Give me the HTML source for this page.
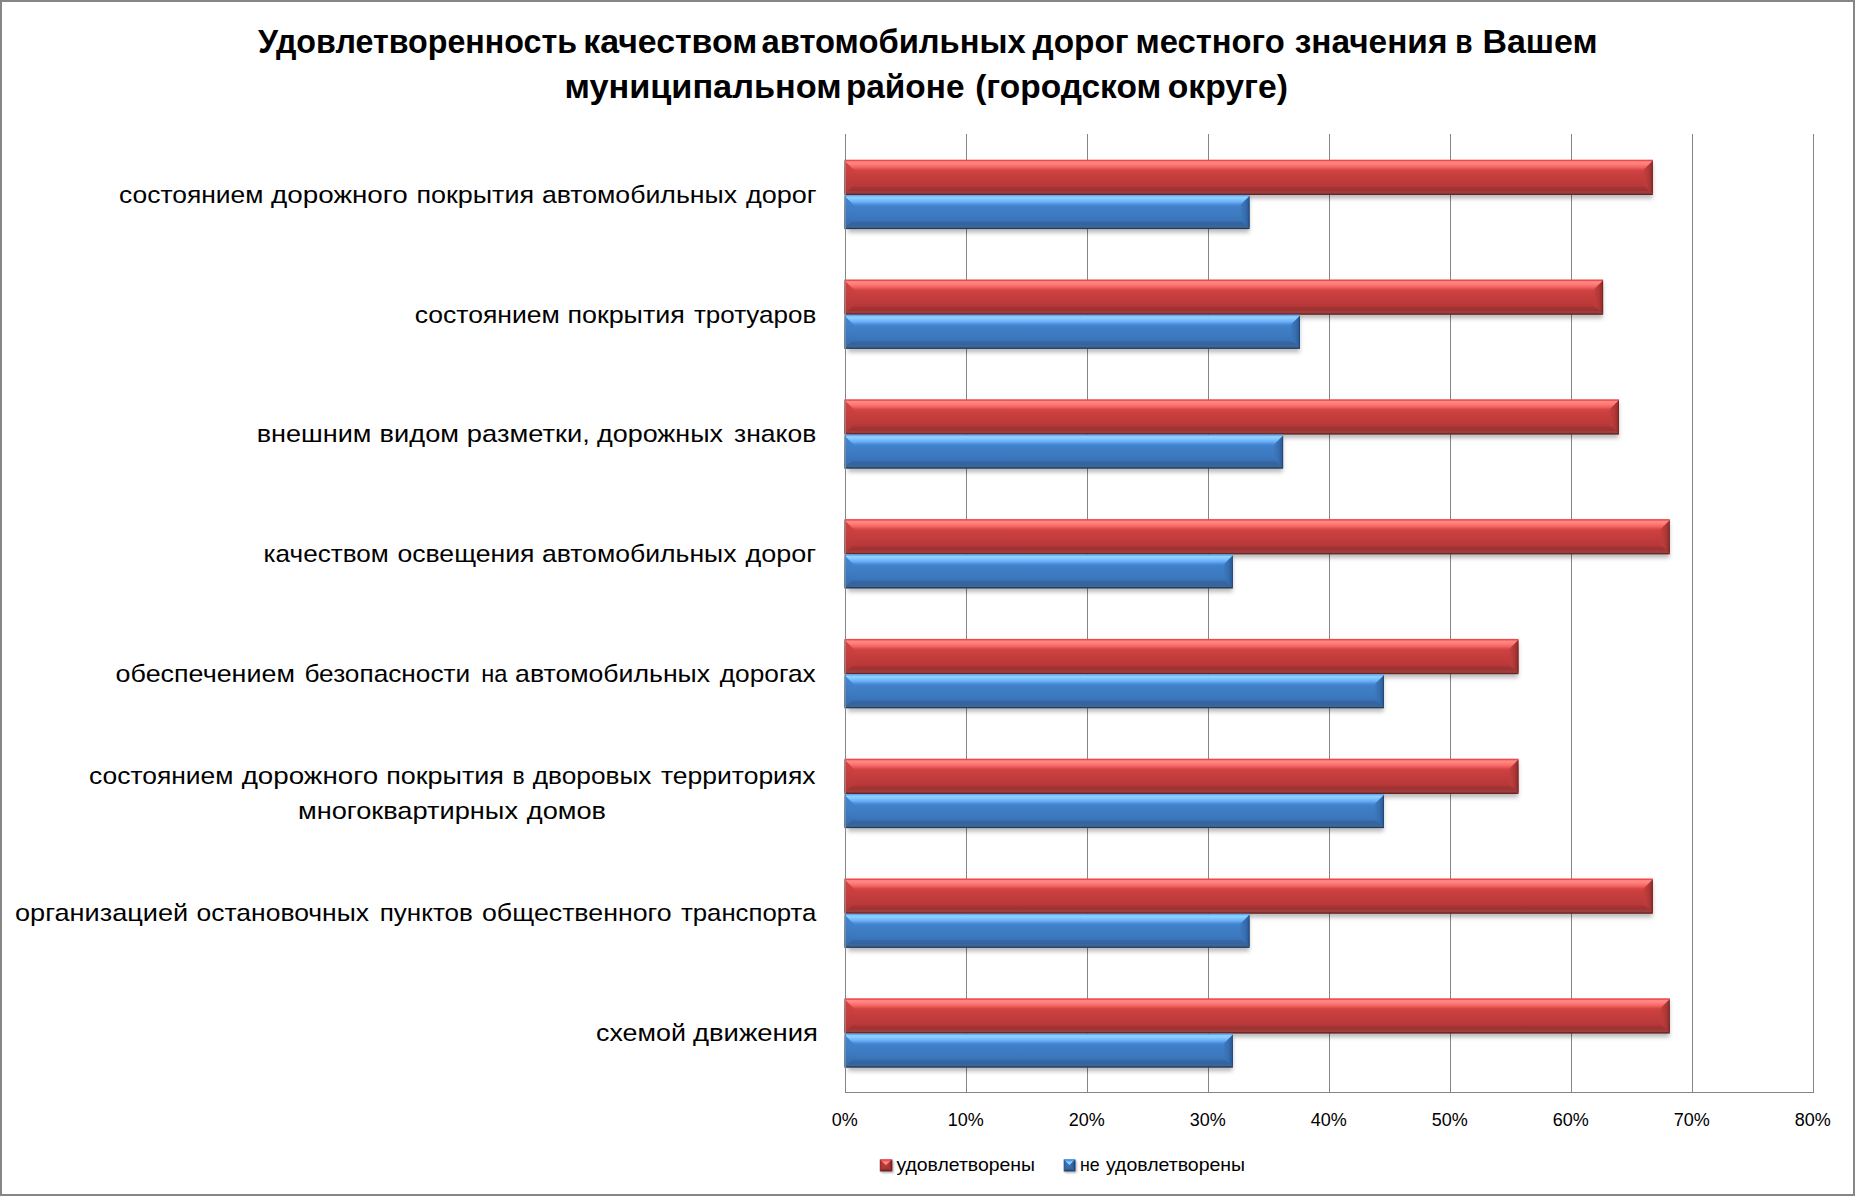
<!DOCTYPE html>
<html lang="ru">
<head>
<meta charset="utf-8">
<title>Удовлетворенность качеством автомобильных дорог</title>
<style>
html,body{margin:0;padding:0;background:#fff;}
body{width:1855px;height:1196px;overflow:hidden;}
svg{display:block;}
text{font-family:"Liberation Sans",sans-serif;fill:#000;}
.t{font-weight:bold;font-size:34px;}
.c{font-size:24.8px;}
.a{font-size:18px;}
.l{font-size:18.2px;}
</style>
</head>
<body>
<svg width="1855" height="1196" viewBox="0 0 1855 1196">
<defs>
<linearGradient id="gr" x1="0" y1="0" x2="0" y2="1">
<stop offset="0" stop-color="#ee4444"/>
<stop offset="0.03" stop-color="#f04a4a"/>
<stop offset="0.06" stop-color="#ff8a86"/>
<stop offset="0.12" stop-color="#ff807c"/>
<stop offset="0.21" stop-color="#f46462"/>
<stop offset="0.29" stop-color="#d44646"/>
<stop offset="0.35" stop-color="#cc4040"/>
<stop offset="0.60" stop-color="#c03b3b"/>
<stop offset="0.75" stop-color="#b53838"/>
<stop offset="0.80" stop-color="#a43232"/>
<stop offset="0.88" stop-color="#a03232"/>
<stop offset="0.90" stop-color="#9c3e3e"/>
<stop offset="0.95" stop-color="#984040"/>
<stop offset="0.97" stop-color="#702424"/>
<stop offset="1" stop-color="#6a2020"/>
</linearGradient>
<linearGradient id="gb" x1="0" y1="0" x2="0" y2="1">
<stop offset="0" stop-color="#58a6f6"/>
<stop offset="0.03" stop-color="#62b0fa"/>
<stop offset="0.06" stop-color="#90d4ff"/>
<stop offset="0.12" stop-color="#84c8ff"/>
<stop offset="0.21" stop-color="#68acf6"/>
<stop offset="0.29" stop-color="#4888d6"/>
<stop offset="0.35" stop-color="#4080c8"/>
<stop offset="0.60" stop-color="#3c7ac0"/>
<stop offset="0.75" stop-color="#3a74b8"/>
<stop offset="0.80" stop-color="#3466a4"/>
<stop offset="0.88" stop-color="#3464a0"/>
<stop offset="0.90" stop-color="#3a6698"/>
<stop offset="0.95" stop-color="#3c6896"/>
<stop offset="0.97" stop-color="#243e60"/>
<stop offset="1" stop-color="#203858"/>
</linearGradient>
<linearGradient id="rr" x1="0" y1="0" x2="1" y2="0">
<stop offset="0" stop-color="#c43e3e" stop-opacity="0"/>
<stop offset="0.3" stop-color="#be3c3c"/>
<stop offset="0.6" stop-color="#b23838"/>
<stop offset="0.86" stop-color="#983030"/>
<stop offset="1" stop-color="#6a2020"/>
</linearGradient>
<linearGradient id="rb" x1="0" y1="0" x2="1" y2="0">
<stop offset="0" stop-color="#3e7ac0" stop-opacity="0"/>
<stop offset="0.3" stop-color="#3b75b9"/>
<stop offset="0.6" stop-color="#376eb0"/>
<stop offset="0.86" stop-color="#2e5e9a"/>
<stop offset="1" stop-color="#1e3e68"/>
</linearGradient>
<linearGradient id="lr" x1="0" y1="0" x2="0" y2="1">
<stop offset="0" stop-color="#d64545"/>
<stop offset="0.5" stop-color="#c43d3d"/>
<stop offset="1" stop-color="#b03636"/>
</linearGradient>
<linearGradient id="lb" x1="0" y1="0" x2="0" y2="1">
<stop offset="0" stop-color="#4686d2"/>
<stop offset="0.5" stop-color="#3e7cc4"/>
<stop offset="1" stop-color="#366cac"/>
</linearGradient>
<filter id="sh" x="-5%" y="-50%" width="110%" height="200%">
<feGaussianBlur stdDeviation="2"/>
</filter>
<linearGradient id="mrt" x1="0" y1="0" x2="0" y2="1">
<stop offset="0" stop-color="#ec4040"/><stop offset="0.2" stop-color="#f45050"/><stop offset="0.5" stop-color="#ff8c8a"/><stop offset="1" stop-color="#ff7a78"/>
</linearGradient>
<linearGradient id="mrl" x1="0" y1="0" x2="1" y2="0">
<stop offset="0" stop-color="#8c2424"/><stop offset="0.12" stop-color="#b03434"/><stop offset="0.5" stop-color="#c03c3c"/><stop offset="1" stop-color="#c03c3c"/>
</linearGradient>
<linearGradient id="mrr" x1="0" y1="0" x2="1" y2="0">
<stop offset="0" stop-color="#c03c3c"/><stop offset="0.6" stop-color="#a83232"/><stop offset="1" stop-color="#641a1a"/>
</linearGradient>
<linearGradient id="mrb" x1="0" y1="0" x2="0" y2="1">
<stop offset="0" stop-color="#b03c3c"/><stop offset="0.5" stop-color="#9a3c3c"/><stop offset="0.8" stop-color="#7a2c2c"/><stop offset="1" stop-color="#5a1818"/>
</linearGradient>
<linearGradient id="mbt" x1="0" y1="0" x2="0" y2="1">
<stop offset="0" stop-color="#4088e8"/><stop offset="0.2" stop-color="#5098f0"/><stop offset="0.5" stop-color="#8cd4ff"/><stop offset="1" stop-color="#78c0ff"/>
</linearGradient>
<linearGradient id="mbl" x1="0" y1="0" x2="1" y2="0">
<stop offset="0" stop-color="#24508c"/><stop offset="0.12" stop-color="#3468ac"/><stop offset="0.5" stop-color="#3c74bc"/><stop offset="1" stop-color="#3c74bc"/>
</linearGradient>
<linearGradient id="mbr" x1="0" y1="0" x2="1" y2="0">
<stop offset="0" stop-color="#3c74bc"/><stop offset="0.6" stop-color="#3060a0"/><stop offset="1" stop-color="#183868"/>
</linearGradient>
<linearGradient id="mbb" x1="0" y1="0" x2="0" y2="1">
<stop offset="0" stop-color="#3c70b4"/><stop offset="0.5" stop-color="#3c6898"/><stop offset="0.8" stop-color="#2c5080"/><stop offset="1" stop-color="#182c50"/>
</linearGradient>
<filter id="sh2" x="-30%" y="-30%" width="160%" height="160%">
<feGaussianBlur stdDeviation="0.8"/>
</filter>
</defs>
<rect x="0" y="0" width="1855" height="1196" fill="#fff"/>
<rect x="1" y="1" width="1853" height="1194" fill="none" stroke="#868686" stroke-width="2"/>
<g stroke="#868686" stroke-width="1" fill="none">
<line x1="966.5" y1="134.0" x2="966.5" y2="1092.4"/>
<line x1="1087.5" y1="134.0" x2="1087.5" y2="1092.4"/>
<line x1="1208.5" y1="134.0" x2="1208.5" y2="1092.4"/>
<line x1="1329.5" y1="134.0" x2="1329.5" y2="1092.4"/>
<line x1="1450.5" y1="134.0" x2="1450.5" y2="1092.4"/>
<line x1="1571.5" y1="134.0" x2="1571.5" y2="1092.4"/>
<line x1="1692.5" y1="134.0" x2="1692.5" y2="1092.4"/>
<line x1="1813.5" y1="134.0" x2="1813.5" y2="1092.4"/>
</g>
<g filter="url(#sh)" fill="#000" fill-opacity="0.27">
<rect x="847.9" y="163.20" width="804.7" height="35.30"/>
<rect x="847.9" y="198.50" width="401.3" height="34.10"/>
<rect x="847.9" y="283.00" width="754.9" height="35.30"/>
<rect x="847.9" y="318.30" width="451.8" height="34.10"/>
<rect x="847.9" y="402.80" width="770.8" height="35.30"/>
<rect x="847.9" y="438.10" width="434.8" height="34.10"/>
<rect x="847.9" y="522.60" width="821.6" height="35.30"/>
<rect x="847.9" y="557.90" width="384.6" height="34.10"/>
<rect x="847.9" y="642.40" width="670.3" height="35.30"/>
<rect x="847.9" y="677.70" width="535.7" height="34.10"/>
<rect x="847.9" y="762.20" width="670.3" height="35.30"/>
<rect x="847.9" y="797.50" width="535.7" height="34.10"/>
<rect x="847.9" y="882.00" width="804.7" height="35.30"/>
<rect x="847.9" y="917.30" width="401.3" height="34.10"/>
<rect x="847.9" y="1001.80" width="821.6" height="35.30"/>
<rect x="847.9" y="1037.10" width="384.6" height="34.10"/>
</g>
<rect x="844.4" y="159.70" width="808.5" height="35.30" fill="url(#gr)"/>
<polygon points="844.4,160.50 853.9,170.00 853.9,185.50 844.4,193.80" fill="url(#lr)"/>
<polygon points="1652.9,160.50 1642.4,171.00 1642.4,184.50 1652.9,193.80" fill="url(#rr)"/>
<rect x="844.4" y="195.00" width="405.2" height="34.10" fill="url(#gb)"/>
<polygon points="844.4,195.80 853.9,205.30 853.9,219.60 844.4,227.90" fill="url(#lb)"/>
<polygon points="1249.6,195.80 1239.1,206.30 1239.1,218.60 1249.6,227.90" fill="url(#rb)"/>
<rect x="844.4" y="279.50" width="758.7" height="35.30" fill="url(#gr)"/>
<polygon points="844.4,280.30 853.9,289.80 853.9,305.30 844.4,313.60" fill="url(#lr)"/>
<polygon points="1603.1,280.30 1592.6,290.80 1592.6,304.30 1603.1,313.60" fill="url(#rr)"/>
<rect x="844.4" y="314.80" width="455.6" height="34.10" fill="url(#gb)"/>
<polygon points="844.4,315.60 853.9,325.10 853.9,339.40 844.4,347.70" fill="url(#lb)"/>
<polygon points="1300.0,315.60 1289.5,326.10 1289.5,338.40 1300.0,347.70" fill="url(#rb)"/>
<rect x="844.4" y="399.30" width="774.6" height="35.30" fill="url(#gr)"/>
<polygon points="844.4,400.10 853.9,409.60 853.9,425.10 844.4,433.40" fill="url(#lr)"/>
<polygon points="1619.0,400.10 1608.5,410.60 1608.5,424.10 1619.0,433.40" fill="url(#rr)"/>
<rect x="844.4" y="434.60" width="438.7" height="34.10" fill="url(#gb)"/>
<polygon points="844.4,435.40 853.9,444.90 853.9,459.20 844.4,467.50" fill="url(#lb)"/>
<polygon points="1283.1,435.40 1272.6,445.90 1272.6,458.20 1283.1,467.50" fill="url(#rb)"/>
<rect x="844.4" y="519.10" width="825.4" height="35.30" fill="url(#gr)"/>
<polygon points="844.4,519.90 853.9,529.40 853.9,544.90 844.4,553.20" fill="url(#lr)"/>
<polygon points="1669.8,519.90 1659.3,530.40 1659.3,543.90 1669.8,553.20" fill="url(#rr)"/>
<rect x="844.4" y="554.40" width="388.5" height="34.10" fill="url(#gb)"/>
<polygon points="844.4,555.20 853.9,564.70 853.9,579.00 844.4,587.30" fill="url(#lb)"/>
<polygon points="1232.9,555.20 1222.4,565.70 1222.4,578.00 1232.9,587.30" fill="url(#rb)"/>
<rect x="844.4" y="638.90" width="674.1" height="35.30" fill="url(#gr)"/>
<polygon points="844.4,639.70 853.9,649.20 853.9,664.70 844.4,673.00" fill="url(#lr)"/>
<polygon points="1518.5,639.70 1508.0,650.20 1508.0,663.70 1518.5,673.00" fill="url(#rr)"/>
<rect x="844.4" y="674.20" width="539.6" height="34.10" fill="url(#gb)"/>
<polygon points="844.4,675.00 853.9,684.50 853.9,698.80 844.4,707.10" fill="url(#lb)"/>
<polygon points="1384.0,675.00 1373.5,685.50 1373.5,697.80 1384.0,707.10" fill="url(#rb)"/>
<rect x="844.4" y="758.70" width="674.1" height="35.30" fill="url(#gr)"/>
<polygon points="844.4,759.50 853.9,769.00 853.9,784.50 844.4,792.80" fill="url(#lr)"/>
<polygon points="1518.5,759.50 1508.0,770.00 1508.0,783.50 1518.5,792.80" fill="url(#rr)"/>
<rect x="844.4" y="794.00" width="539.6" height="34.10" fill="url(#gb)"/>
<polygon points="844.4,794.80 853.9,804.30 853.9,818.60 844.4,826.90" fill="url(#lb)"/>
<polygon points="1384.0,794.80 1373.5,805.30 1373.5,817.60 1384.0,826.90" fill="url(#rb)"/>
<rect x="844.4" y="878.50" width="808.5" height="35.30" fill="url(#gr)"/>
<polygon points="844.4,879.30 853.9,888.80 853.9,904.30 844.4,912.60" fill="url(#lr)"/>
<polygon points="1652.9,879.30 1642.4,889.80 1642.4,903.30 1652.9,912.60" fill="url(#rr)"/>
<rect x="844.4" y="913.80" width="405.2" height="34.10" fill="url(#gb)"/>
<polygon points="844.4,914.60 853.9,924.10 853.9,938.40 844.4,946.70" fill="url(#lb)"/>
<polygon points="1249.6,914.60 1239.1,925.10 1239.1,937.40 1249.6,946.70" fill="url(#rb)"/>
<rect x="844.4" y="998.30" width="825.4" height="35.30" fill="url(#gr)"/>
<polygon points="844.4,999.10 853.9,1008.60 853.9,1024.10 844.4,1032.40" fill="url(#lr)"/>
<polygon points="1669.8,999.10 1659.3,1009.60 1659.3,1023.10 1669.8,1032.40" fill="url(#rr)"/>
<rect x="844.4" y="1033.60" width="388.5" height="34.10" fill="url(#gb)"/>
<polygon points="844.4,1034.40 853.9,1043.90 853.9,1058.20 844.4,1066.50" fill="url(#lb)"/>
<polygon points="1232.9,1034.40 1222.4,1044.90 1222.4,1057.20 1232.9,1066.50" fill="url(#rb)"/>
<g stroke="#868686" stroke-width="1" fill="none">
<line x1="845.5" y1="134.0" x2="845.5" y2="1093"/>
<line x1="845" y1="1092.5" x2="1814" y2="1092.5"/>
</g>
<text class="t" y="52.6"><tspan x="257.9" textLength="319.1" lengthAdjust="spacingAndGlyphs">Удовлетворенность</tspan> <tspan x="583.3" textLength="173.9" lengthAdjust="spacingAndGlyphs">качеством</tspan> <tspan x="761.5" textLength="264.2" lengthAdjust="spacingAndGlyphs">автомобильных</tspan> <tspan x="1032.5" textLength="96.2" lengthAdjust="spacingAndGlyphs">дорог</tspan> <tspan x="1135.5" textLength="149.2" lengthAdjust="spacingAndGlyphs">местного</tspan> <tspan x="1294.7" textLength="152.7" lengthAdjust="spacingAndGlyphs">значения</tspan> <tspan x="1455.2" textLength="17.3" lengthAdjust="spacingAndGlyphs">в</tspan> <tspan x="1482.4" textLength="115.2" lengthAdjust="spacingAndGlyphs">Вашем</tspan></text>
<text class="t" y="97.9"><tspan x="564.5" textLength="277.1" lengthAdjust="spacingAndGlyphs">муниципальном</tspan> <tspan x="845.9" textLength="118.6" lengthAdjust="spacingAndGlyphs">районе</tspan> <tspan x="975.2" textLength="186.0" lengthAdjust="spacingAndGlyphs">(городском</tspan> <tspan x="1167.8" textLength="120.2" lengthAdjust="spacingAndGlyphs">округе)</tspan></text>
<text class="c" y="202.9"><tspan x="119.0" textLength="144.4" lengthAdjust="spacingAndGlyphs">состоянием</tspan> <tspan x="271.1" textLength="136.7" lengthAdjust="spacingAndGlyphs">дорожного</tspan> <tspan x="416.4" textLength="117.7" lengthAdjust="spacingAndGlyphs">покрытия</tspan> <tspan x="541.9" textLength="195.1" lengthAdjust="spacingAndGlyphs">автомобильных</tspan> <tspan x="745.9" textLength="70.7" lengthAdjust="spacingAndGlyphs">дорог</tspan></text>
<text class="c" y="322.9"><tspan x="414.7" textLength="145.2" lengthAdjust="spacingAndGlyphs">состоянием</tspan> <tspan x="567.4" textLength="117.4" lengthAdjust="spacingAndGlyphs">покрытия</tspan> <tspan x="693.9" textLength="122.4" lengthAdjust="spacingAndGlyphs">тротуаров</tspan></text>
<text class="c" y="441.9"><tspan x="256.7" textLength="114.8" lengthAdjust="spacingAndGlyphs">внешним</tspan> <tspan x="379.6" textLength="79.4" lengthAdjust="spacingAndGlyphs">видом</tspan> <tspan x="466.8" textLength="123.0" lengthAdjust="spacingAndGlyphs">разметки,</tspan> <tspan x="597.1" textLength="125.9" lengthAdjust="spacingAndGlyphs">дорожных</tspan> <tspan x="734.1" textLength="82.1" lengthAdjust="spacingAndGlyphs">знаков</tspan></text>
<text class="c" y="561.9"><tspan x="263.6" textLength="125.1" lengthAdjust="spacingAndGlyphs">качеством</tspan> <tspan x="397.4" textLength="137.1" lengthAdjust="spacingAndGlyphs">освещения</tspan> <tspan x="541.9" textLength="194.6" lengthAdjust="spacingAndGlyphs">автомобильных</tspan> <tspan x="745.6" textLength="70.6" lengthAdjust="spacingAndGlyphs">дорог</tspan></text>
<text class="c" y="681.9"><tspan x="115.6" textLength="179.3" lengthAdjust="spacingAndGlyphs">обеспечением</tspan> <tspan x="304.4" textLength="165.8" lengthAdjust="spacingAndGlyphs">безопасности</tspan> <tspan x="481.2" textLength="26.2" lengthAdjust="spacingAndGlyphs">на</tspan> <tspan x="515.1" textLength="195.0" lengthAdjust="spacingAndGlyphs">автомобильных</tspan> <tspan x="719.8" textLength="95.9" lengthAdjust="spacingAndGlyphs">дорогах</tspan></text>
<text class="c" y="783.9"><tspan x="89.0" textLength="144.5" lengthAdjust="spacingAndGlyphs">состоянием</tspan> <tspan x="241.7" textLength="136.4" lengthAdjust="spacingAndGlyphs">дорожного</tspan> <tspan x="386.2" textLength="117.8" lengthAdjust="spacingAndGlyphs">покрытия</tspan> <tspan x="512.4" textLength="12.2" lengthAdjust="spacingAndGlyphs">в</tspan> <tspan x="532.8" textLength="118.7" lengthAdjust="spacingAndGlyphs">дворовых</tspan> <tspan x="661.0" textLength="154.5" lengthAdjust="spacingAndGlyphs">территориях</tspan></text>
<text class="c" y="818.9"><tspan x="298.0" textLength="220.0" lengthAdjust="spacingAndGlyphs">многоквартирных</tspan> <tspan x="526.8" textLength="79.2" lengthAdjust="spacingAndGlyphs">домов</tspan></text>
<text class="c" y="920.9"><tspan x="15.0" textLength="173.2" lengthAdjust="spacingAndGlyphs">организацией</tspan> <tspan x="196.5" textLength="172.5" lengthAdjust="spacingAndGlyphs">остановочных</tspan> <tspan x="379.7" textLength="93.3" lengthAdjust="spacingAndGlyphs">пунктов</tspan> <tspan x="482.0" textLength="189.6" lengthAdjust="spacingAndGlyphs">общественного</tspan> <tspan x="681.0" textLength="135.3" lengthAdjust="spacingAndGlyphs">транспорта</tspan></text>
<text class="c" y="1040.9"><tspan x="596.1" textLength="89.8" lengthAdjust="spacingAndGlyphs">схемой</tspan> <tspan x="693.0" textLength="125.0" lengthAdjust="spacingAndGlyphs">движения</tspan></text>
<text class="a" x="844.7" y="1125.9" text-anchor="middle">0%</text>
<text class="a" x="965.7" y="1125.9" text-anchor="middle">10%</text>
<text class="a" x="1086.7" y="1125.9" text-anchor="middle">20%</text>
<text class="a" x="1207.7" y="1125.9" text-anchor="middle">30%</text>
<text class="a" x="1328.7" y="1125.9" text-anchor="middle">40%</text>
<text class="a" x="1449.7" y="1125.9" text-anchor="middle">50%</text>
<text class="a" x="1570.7" y="1125.9" text-anchor="middle">60%</text>
<text class="a" x="1691.7" y="1125.9" text-anchor="middle">70%</text>
<text class="a" x="1812.7" y="1125.9" text-anchor="middle">80%</text>
<rect x="881.0" y="1160.9" width="12.4" height="11.9" fill="#000" fill-opacity="0.35" filter="url(#sh2)"/><rect x="879.8" y="1159.4" width="12.4" height="11.9" fill="url(#mrl)"/><polygon points="879.8,1159.4 892.1999999999999,1159.4 886.0,1165.3500000000001" fill="url(#mrt)"/><polygon points="892.1999999999999,1159.4 886.0,1165.3500000000001 892.1999999999999,1171.3000000000002" fill="url(#mrr)"/><polygon points="879.8,1171.3000000000002 886.0,1165.3500000000001 892.1999999999999,1171.3000000000002" fill="url(#mrb)"/>
<text class="l" y="1170.9"><tspan x="896.4" textLength="138.6" lengthAdjust="spacingAndGlyphs">удовлетворены</tspan></text>
<rect x="1064.9" y="1160.9" width="11.6" height="11.9" fill="#000" fill-opacity="0.35" filter="url(#sh2)"/><rect x="1063.7" y="1159.4" width="11.6" height="11.9" fill="url(#mbl)"/><polygon points="1063.7,1159.4 1075.3,1159.4 1069.5,1165.3500000000001" fill="url(#mbt)"/><polygon points="1075.3,1159.4 1069.5,1165.3500000000001 1075.3,1171.3000000000002" fill="url(#mbr)"/><polygon points="1063.7,1171.3000000000002 1069.5,1165.3500000000001 1075.3,1171.3000000000002" fill="url(#mbb)"/>
<text class="l" y="1170.9"><tspan x="1080.0" textLength="19.7" lengthAdjust="spacingAndGlyphs">не</tspan> <tspan x="1106.0" textLength="139.1" lengthAdjust="spacingAndGlyphs">удовлетворены</tspan></text>
</svg>
</body>
</html>
